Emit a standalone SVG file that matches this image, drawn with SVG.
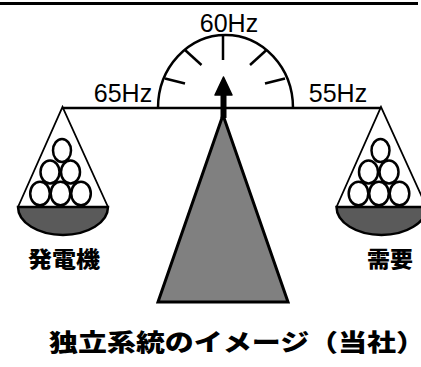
<svg xmlns="http://www.w3.org/2000/svg" width="421" height="367" viewBox="0 0 421 367">
  <defs>
    <style>
      .ln { stroke: #000; fill: none; }
      .ball { fill: #fff; stroke: #000; stroke-width: 2.5; }
      .bowl { fill: #5a5a5a; stroke: #000; stroke-width: 2.5; }
      .hz { font-family: "Liberation Sans", Arial, sans-serif; font-size: 25px; fill: #000; }
      .jp { font-family: "Noto Sans CJK JP", "Noto Sans CJK SC", sans-serif; font-weight: 900; fill: #000; }
    </style>
    <!-- one pan: hanger, stacked balls and bowl, apex at origin -->
    <g id="pan">
      <polyline class="ln" stroke-width="1.8" points="-44.5,100 0,0 45.5,100"/>
      <ellipse class="ball" cx="-0.5" cy="43.5" rx="9" ry="11.5"/>
      <ellipse class="ball" cx="-12.5" cy="65" rx="9.5" ry="11.5"/>
      <ellipse class="ball" cx="8" cy="65" rx="9.5" ry="11.5"/>
      <ellipse class="ball" cx="-22.5" cy="86.5" rx="9.8" ry="11.8"/>
      <ellipse class="ball" cx="-2" cy="86.5" rx="9.8" ry="11.8"/>
      <ellipse class="ball" cx="18.5" cy="86.5" rx="9.8" ry="11.8"/>
      <path class="bowl" d="M-44.5,100 H45.5 A45,28 0 0 1 -44.5,100 Z"/>
    </g>
  </defs>

  <!-- top rule -->
  <line class="ln" x1="0" y1="3.5" x2="418" y2="3.5" stroke-width="3"/>

  <g id="connectors">
    <!-- balance beam -->
    <line class="ln" x1="62" y1="108" x2="381" y2="108" stroke-width="2.5"/>
  </g>

  <g id="dial">
    <path class="ln" stroke-width="2.5" d="M158,108 A67.5,73 0 0 1 293,108"/>
    <g class="ln" stroke-width="2.5">
      <line x1="223" y1="35" x2="223" y2="60"/>
      <line x1="185" y1="50" x2="201.5" y2="65"/>
      <line x1="266.5" y1="50" x2="250" y2="65"/>
      <line x1="165" y1="78.5" x2="185" y2="83.5"/>
      <line x1="285" y1="78.5" x2="265" y2="83.5"/>
    </g>
    <text class="hz" x="229" y="31.5" text-anchor="middle">60Hz</text>
    <text class="hz" x="123" y="101.5" text-anchor="middle">65Hz</text>
    <text class="hz" x="338" y="101.5" text-anchor="middle">55Hz</text>
  </g>

  <g id="fulcrum">
    <polygon points="223,115 158,302 288,302" fill="#808080" stroke="#000" stroke-width="3" stroke-linejoin="miter"/>
    <!-- needle -->
    <line x1="223.5" y1="92" x2="223.5" y2="118" stroke="#000" stroke-width="6"/>
    <polygon points="223.5,77 215,95 232,95" fill="#000" stroke="#000" stroke-width="1.5" stroke-linejoin="round"/>
  </g>

  <g id="generator">
    <use href="#pan" x="62.5" y="107"/>
    <text class="jp" x="64" y="267" font-size="22" text-anchor="middle" textLength="72" lengthAdjust="spacingAndGlyphs">発電機</text>
  </g>

  <g id="demand">
    <use href="#pan" x="381" y="107"/>
    <text class="jp" x="390" y="267" font-size="22" text-anchor="middle" textLength="46" lengthAdjust="spacingAndGlyphs">需要</text>
  </g>

  <text class="jp" x="237" y="351" font-size="24" text-anchor="middle" textLength="376" lengthAdjust="spacingAndGlyphs">独立系統のイメージ（当社）</text>
</svg>
